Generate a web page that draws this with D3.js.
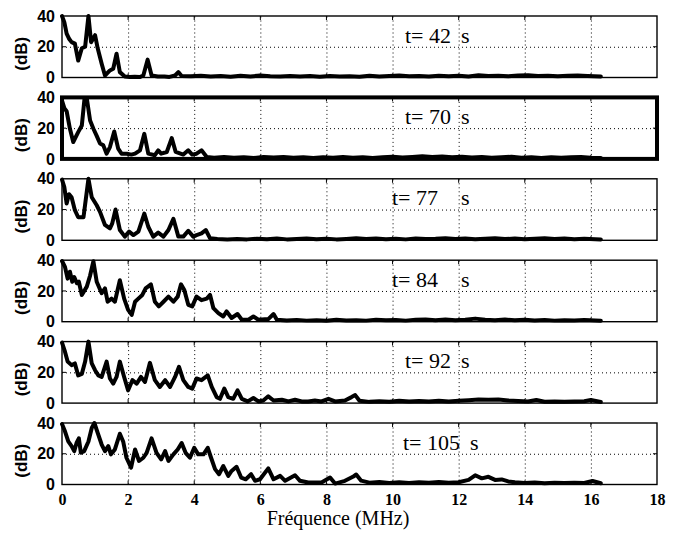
<!DOCTYPE html>
<html>
<head>
<meta charset="utf-8">
<script src="https://cdn.jsdelivr.net/npm/d3@7"></script>
<style>
  body { margin: 0; background: #fff; }
  .grid line { stroke: #000; stroke-width: 1; stroke-dasharray: 1,3; }
  .grid path { display: none; }
</style>
</head>
<body>
<div id="chart"></div>
<script>
// spectre par instant (freq MHz, niveau dB)
var t42 = [[0,40],[0.07,36],[0.14,28.6],[0.22,25],[0.29,23],[0.39,22],[0.49,11],[0.6,19],[0.7,20],[0.8,40],[0.88,23],[1.0,27.5],[1.08,19],[1.2,9],[1.3,1.3],[1.45,4.6],[1.55,5.7],[1.65,15.5],[1.75,3.5],[1.9,0.7],[2.05,0.3],[2.2,0.5],[2.35,0.3],[2.46,1.3],[2.59,11.6],[2.71,1.3],[2.9,0.6],[3.1,0.7],[3.25,0.4],[3.42,1.3],[3.52,3.5],[3.62,1],
  [3.9,0.8],[4.2,1.2],[4.5,0.6],[4.8,1.0],[5.1,0.5],[5.4,1.1],[5.7,0.7],[6.0,1.3],[6.3,0.8],[6.6,0.6],[6.9,1.0],[7.2,0.7],[7.5,0.9],[7.8,0.5],[8.1,1.0],[8.4,0.6],[8.7,0.8],[9.0,0.5],[9.3,1.1],[9.6,0.6],[9.9,0.9],[10.2,1.3],[10.5,0.8],[10.8,1.0],[11.1,0.6],[11.4,1.2],[11.7,0.8],[12.0,1.1],[12.3,0.7],[12.6,1.4],[12.9,0.9],[13.2,1.2],[13.5,0.8],[13.8,1.3],[14.1,1.5],[14.4,1.0],[14.7,1.2],[15.0,0.8],[15.3,1.1],[15.6,1.3],[15.9,1.0],[16.3,0.7]];

var t70 = [[0,38],[0.07,33],[0.14,31],[0.24,19.6],[0.34,11],[0.49,17.4],[0.6,21.7],[0.68,39],[0.75,39.5],[0.85,25],[0.95,19.6],[1.05,15],[1.15,10],[1.25,8.8],[1.35,3.4],[1.45,7.7],[1.58,17.8],[1.7,6.7],[1.8,3.4],[1.96,3.4],[2.1,2.8],[2.21,3.4],[2.36,5.6],[2.49,16.3],[2.61,3.4],[2.81,2.4],[2.91,5.6],[3.0,3.4],[3.17,4.5],[3.32,13.5],[3.44,4.5],[3.67,2.8],[3.82,5.6],[3.94,2.8],[4.07,3.4],[4.22,5.6],[4.38,1.3],
  [4.6,0.8],[4.9,1.2],[5.2,0.7],[5.5,1.0],[5.8,0.6],[6.1,1.3],[6.4,0.9],[6.7,1.2],[7.0,0.7],[7.3,1.0],[7.6,0.6],[7.9,1.1],[8.2,0.8],[8.5,1.2],[8.8,0.7],[9.1,1.0],[9.4,0.6],[9.7,1.1],[10.0,1.4],[10.3,0.9],[10.6,1.3],[10.9,1.8],[11.2,1.2],[11.5,1.6],[11.8,1.0],[12.1,1.4],[12.4,0.9],[12.7,1.2],[13.0,0.7],[13.3,1.1],[13.6,1.4],[13.9,0.8],[14.2,1.0],[14.5,0.6],[14.8,1.1],[15.1,0.7],[15.4,1.0],[15.7,1.2],[16.0,0.8],[16.3,0.6]];

var t77 = [[0,39.5],[0.07,34.6],[0.14,24],[0.21,30],[0.29,28],[0.39,19.6],[0.49,15],[0.65,15],[0.8,40],[0.9,28],[1.05,22.8],[1.15,18.5],[1.3,10],[1.45,7.7],[1.52,11],[1.62,20],[1.75,6.7],[1.9,2.4],[2.03,5.6],[2.16,3.4],[2.31,5.6],[2.49,17.4],[2.61,8.8],[2.76,2.4],[2.91,5],[3.07,2.4],[3.22,6.7],[3.37,14],[3.52,2.4],[3.67,2.4],[3.82,6.2],[3.97,2.4],[4.07,3.4],[4.22,4.5],[4.35,6.7],[4.48,1.3],
  [4.7,0.8],[5.0,0.5],[5.3,0.9],[5.6,0.6],[5.9,1.0],[6.2,0.7],[6.5,1.1],[6.8,0.6],[7.1,0.9],[7.4,1.2],[7.7,0.7],[8.0,1.0],[8.3,0.6],[8.6,0.9],[8.9,1.3],[9.2,0.8],[9.5,1.1],[9.8,0.7],[10.1,1.0],[10.4,0.6],[10.7,1.2],[11.0,0.8],[11.3,1.0],[11.6,1.4],[11.9,0.9],[12.2,1.2],[12.5,0.7],[12.8,1.0],[13.1,1.3],[13.4,0.8],[13.7,1.1],[14.0,0.7],[14.3,1.0],[14.6,1.3],[14.9,0.8],[15.2,1.1],[15.5,0.7],[15.8,1.0],[16.3,0.6]];

var t84 = [[0,39.5],[0.09,35.7],[0.17,28],[0.24,32.5],[0.31,26],[0.37,29],[0.45,25],[0.51,26],[0.6,17.4],[0.75,22.8],[0.85,30],[0.95,39.3],[1.05,26],[1.2,18.5],[1.3,21.7],[1.38,13],[1.5,15],[1.6,13],[1.75,27],[1.88,15],[2.0,7.7],[2.11,4.5],[2.21,13],[2.31,15],[2.43,17.4],[2.53,21.7],[2.69,24.3],[2.81,13],[2.93,10],[3.07,13],[3.22,16.3],[3.37,13],[3.5,16.3],[3.6,24.3],[3.7,20.6],[3.82,11],[3.94,10],[4.07,16.3],[4.22,14],[4.38,15],[4.48,17.4],[4.58,8.8],[4.73,5.6],[4.88,3.4],[4.98,6.7],[5.13,2.4],[5.31,5],[5.44,1.3],[5.64,1.3],[5.79,3.4],[5.94,1.3],[6.24,1.7],[6.4,5],[6.5,1.3],
  [6.8,0.8],[7.1,1.1],[7.4,0.7],[7.7,1.0],[8.0,0.6],[8.3,1.2],[8.6,0.8],[8.9,1.0],[9.2,0.7],[9.5,1.3],[9.8,0.9],[10.1,1.1],[10.4,0.7],[10.7,1.2],[11.0,1.5],[11.3,1.0],[11.6,1.4],[11.9,0.9],[12.2,1.2],[12.5,2.0],[12.8,1.3],[13.1,1.0],[13.4,1.4],[13.7,0.9],[14.0,1.2],[14.3,0.8],[14.6,1.1],[14.9,0.7],[15.2,1.0],[15.5,0.8],[15.8,1.1],[16.3,0.6]];

var t92 = [[0,39.3],[0.09,33.4],[0.17,27],[0.29,24.7],[0.39,25.8],[0.49,18],[0.6,19],[0.7,27],[0.8,40],[0.9,25.8],[1.0,21.4],[1.1,18],[1.2,17],[1.35,27],[1.45,16],[1.55,12.7],[1.65,17],[1.75,27],[1.88,17],[2.0,8.3],[2.13,14.9],[2.26,12.7],[2.39,17],[2.51,13.8],[2.66,26.2],[2.81,14.9],[2.96,10.5],[3.12,14.9],[3.27,10.5],[3.42,17],[3.54,23.6],[3.67,14.9],[3.82,10.5],[3.94,9.4],[4.07,16],[4.22,14.9],[4.41,18],[4.53,10.5],[4.68,3.9],[4.78,2.8],[4.91,9.4],[5.03,3.9],[5.18,2.8],[5.31,8.3],[5.44,2.8],[5.62,1.1],[5.79,3.3],[5.94,1.1],[6.09,1.7],[6.24,4.4],[6.4,1.7],[6.65,2.2],[6.85,1.1],
  [7.05,2.2],[7.25,1.1],[7.45,1.1],[7.65,1.7],[7.85,1.1],[8.06,2.8],[8.26,1.1],[8.56,1.7],[8.76,3.9],[8.87,5.2],[9.0,1.5],[9.3,0.8],[9.6,1.2],[9.9,0.9],[10.2,1.5],[10.5,1.0],[10.8,1.4],[11.1,1.0],[11.4,1.6],[11.7,1.1],[12.0,1.6],[12.3,1.9],[12.6,2.3],[12.9,2.1],[13.2,2.4],[13.5,1.7],[13.8,1.3],[14.1,1.0],[14.35,2.0],[14.6,0.9],[14.9,1.1],[15.2,0.8],[15.5,1.0],[15.8,1.2],[16.0,2.0],[16.3,0.7]];

var t105 = [[0,39.3],[0.09,34.6],[0.19,28],[0.29,25],[0.37,21.7],[0.44,27],[0.51,30],[0.57,20.6],[0.67,21.7],[0.8,28],[0.9,36.8],[0.98,40],[1.08,33.5],[1.2,26],[1.3,21.7],[1.4,25],[1.48,19.6],[1.6,22.8],[1.75,33],[1.85,28],[1.95,17.4],[2.09,11],[2.21,22.8],[2.33,15.3],[2.46,17.4],[2.56,20.6],[2.71,30],[2.86,20.6],[3.0,16.3],[3.12,21.7],[3.22,15.3],[3.37,19.6],[3.5,22.8],[3.62,27],[3.74,20.6],[3.87,17.4],[4.0,23.9],[4.12,19.6],[4.28,19.6],[4.41,23.9],[4.51,17.4],[4.63,10],[4.75,6.7],[4.88,12],[5.03,5.6],[5.13,8.8],[5.28,11.5],[5.42,4.5],[5.56,3.4],[5.72,6.7],[5.84,2.4],[5.99,3.4],[6.24,10.5],[6.4,3.4],[6.6,5.6],[6.75,2.4],[7.05,6],[7.2,2.4],[7.45,1.3],[7.85,1.3],[8.11,4.5],[8.26,0.6],[8.56,2.4],[8.8,5],
  [8.9,6.5],[9.05,2.5],[9.3,1.2],[9.6,1.6],[9.9,1.0],[10.2,1.4],[10.5,1.0],[10.8,1.5],[11.1,1.1],[11.4,1.6],[11.7,1.2],[12.0,1.5],[12.3,3.0],[12.5,6.0],[12.7,4.0],[12.9,5.0],[13.1,3.0],[13.3,3.3],[13.5,2.0],[13.7,1.4],[14.0,1.0],[14.3,1.3],[14.6,0.8],[14.9,1.1],[15.2,0.9],[15.5,1.2],[15.8,1.0],[16.05,2.3],[16.3,0.8]];

var series = [t42, t70, t77, t84, t92, t105];
var labels = ["t= 42", "t= 70", "t= 77", "t= 84", "t= 92", "t= 105"];
var labelX = [405, 405, 392, 392, 405, 403];   // debut du texte
var unitX  = [461, 461, 461, 461, 461, 470];   // position du "s"
var xTicks = [0, 2, 4, 6, 8, 10, 12, 14, 16, 18];
var yTicks = [0, 20, 40];

var W = 682, H = 539;
var left = 62, right = 657;
var top0 = 16, step = 81.4, ph = 61.5;
var serif = '"Liberation Serif", "Times New Roman", serif';
var sans = '"Liberation Sans", Arial, sans-serif';

var svg = d3.select('#chart').append('svg')
    .attr('width', W)
    .attr('height', H)
    .style('display', 'block');

var x = d3.scaleLinear().domain([0, 18]).range([left, right]);

var line = d3.line()
    .x(d => x(d[0]));

series.forEach(function(data, i) {
    var top = top0 + i * step, bottom = top + ph;
    var y = d3.scaleLinear().domain([0, 40]).range([bottom, top]);
    var g = svg.append('g');

    // grille pointillee
    g.append('g')
        .attr('class', 'grid')
        .attr('transform', 'translate(0,' + bottom + ')')
        .call(d3.axisBottom(x).tickValues(xTicks.slice(1, -1)).tickSize(-ph).tickFormat(''));
    g.append('g')
        .attr('class', 'grid')
        .attr('transform', 'translate(' + left + ',0)')
        .call(d3.axisLeft(y).tickValues([20]).tickSize(-(right - left)).tickFormat(''));

    // petits traits interieurs
    var tk = g.append('g').attr('stroke', '#000').attr('stroke-width', 1);
    xTicks.slice(1, -1).forEach(function(v) {
        tk.append('line').attr('x1', x(v)).attr('x2', x(v)).attr('y1', bottom).attr('y2', bottom - 4);
        tk.append('line').attr('x1', x(v)).attr('x2', x(v)).attr('y1', top).attr('y2', top + 4);
    });
    tk.append('line').attr('x1', left).attr('x2', left + 4).attr('y1', y(20)).attr('y2', y(20));
    tk.append('line').attr('x1', right).attr('x2', right - 4).attr('y1', y(20)).attr('y2', y(20));

    // axe y (etiquettes)
    var ya = g.append('g')
        .attr('transform', 'translate(' + left + ',0)')
        .call(d3.axisLeft(y).tickValues(yTicks).tickSize(0).tickPadding(7));
    ya.select('.domain').remove();
    ya.selectAll('text')
        .style('font-family', sans)
        .attr('font-weight', 'bold')
        .attr('font-size', '16px')
        .attr('fill', '#000');

    g.append('text')
        .attr('transform', 'translate(27,' + (top + ph / 2 + 7) + ') rotate(-90)')
        .attr('text-anchor', 'middle')
        .style('font-family', sans)
        .attr('font-weight', 'bold')
        .attr('font-size', '17px')
        .text('(dB)');

    // courbe
    g.append('path')
        .datum(data)
        .attr('fill', 'none')
        .attr('stroke', '#000')
        .attr('stroke-width', 4)
        .attr('stroke-linejoin', 'round')
        .attr('stroke-linecap', 'round')
        .attr('d', line.y(d => y(d[1])));

    // cadre (le 2e est epais)
    g.append('rect')
        .attr('x', left).attr('y', top)
        .attr('width', right - left).attr('height', ph)
        .attr('fill', 'none')
        .attr('stroke', '#000')
        .attr('stroke-width', i == 1 ? 4 : 1.4);

    g.append('text')
        .attr('x', labelX[i]).attr('y', top + 26.5)
        .style('font-family', serif)
        .attr('font-size', '22px')
        .text(labels[i]);
    g.append('text')
        .attr('x', unitX[i]).attr('y', top + 26.5)
        .style('font-family', serif)
        .attr('font-size', '22px')
        .text('s');

    if (i == series.length - 1) {
        var xa = g.append('g')
            .attr('transform', 'translate(0,' + bottom + ')')
            .call(d3.axisBottom(x).tickValues(xTicks).tickSize(0).tickPadding(9));
        xa.select('.domain').remove();
        xa.selectAll('text')
            .style('font-family', serif)
            .attr('font-weight', 'bold')
            .attr('font-size', '16px')
            .attr('fill', '#000');
    }
});

svg.append('text')
    .attr('x', 338).attr('y', 525)
    .attr('text-anchor', 'middle')
    .style('font-family', serif)
    .attr('font-size', '20px')
    .text('Fréquence (MHz)');
</script>
</body>
</html>
